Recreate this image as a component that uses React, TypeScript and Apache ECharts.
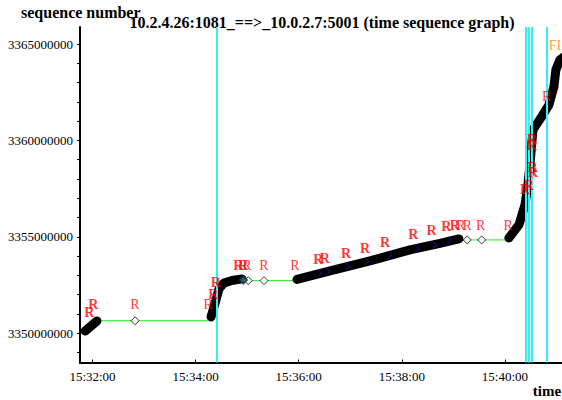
import React, { useEffect, useRef } from "react";
import * as echarts from "echarts";

// ---- axis ticks ----
const xTickLabels = ["15:32:00", "15:34:00", "15:36:00", "15:38:00", "15:40:00"];
const yTickLabels = [3350000000, 3355000000, 3360000000, 3365000000];
const yMinorTicks = [
  3349000000, 3350000000, 3351000000, 3352000000, 3353000000, 3354000000,
  3355000000, 3356000000, 3357000000, 3358000000, 3359000000, 3360000000,
  3361000000, 3362000000, 3363000000, 3364000000, 3365000000,
];
const xRange = ["15:31:45.45", "15:41:06.4"];
const yRange = [3348484000, 3365882000];

// ---- data segments (black, thick) ----
const segA: [string, number][] = [
  ["15:31:51.5", 3350119000],
  ["15:32:05.2", 3350638000],
];
const segB: [string, number][] = [
  ["15:34:17.9", 3350846000],
  ["15:34:23.7", 3351728000],
  ["15:34:27.2", 3352300000],
  ["15:34:33.1", 3352610000],
  ["15:34:42.3", 3352740000],
  ["15:34:53.9", 3352820000],
];
const segC: [string, number][] = [
  ["15:35:58.0", 3352792000],
  ["15:36:36.4", 3353234000],
  ["15:37:22.9", 3353753000],
  ["15:38:09.4", 3354323000],
  ["15:38:44.3", 3354661000],
  ["15:39:06.4", 3354894000],
];
const segD: [string, number][] = [
  ["15:40:04.6", 3354946000],
  ["15:40:16.3", 3355621000],
  ["15:40:23.3", 3356659000],
  ["15:40:26.7", 3357697000],
  ["15:40:29.1", 3358735000],
  ["15:40:32.6", 3360552000],
  ["15:40:41.9", 3361175000],
  ["15:40:51.2", 3361849000],
  ["15:40:57.0", 3362784000],
  ["15:40:59.3", 3363666000],
  ["15:41:04.0", 3364185000],
  ["15:41:08.6", 3364340000],
];

// ---- ack line (green) ----
const ack1: [string, number][] = [["15:32:06.0", 3350650000], ["15:34:15.0", 3350650000]];
const ack2: [string, number][] = [["15:34:54.0", 3352730000], ["15:35:56.0", 3352730000]];
const ack3: [string, number][] = [["15:39:08.0", 3354840000], ["15:40:04.0", 3354840000]];

// ---- hollow diamonds ----
const diamonds: [string, number][] = [
  ["15:32:49.6", 3350650000],
  ["15:35:01.3", 3352730000],
  ["15:35:19.6", 3352730000],
  ["15:39:16.1", 3354840000],
  ["15:39:32.9", 3354840000],
];
const darkDiamonds: [string, number][] = [["15:34:55.5", 3352760000]];

// ---- blue chevrons on the data line ----
const chevrons: [string, number][] = [
  ["15:36:24.7", 3353114000],
  ["15:36:34.0", 3353197000],
  ["15:36:57.3", 3353457000],
  ["15:37:19.4", 3353716000],
  ["15:37:46.2", 3354064000],
  ["15:38:17.6", 3354412000],
  ["15:38:38.6", 3354583000],
  ["15:38:56.0", 3354842000],
];

// ---- retransmission labels "R" ----
const rBold: [string, number][] = [
  ["15:31:56.3", 3351090000],
  ["15:32:00.9", 3351469000],
  ["15:34:20.6", 3351988000],
  ["15:34:23.4", 3352626000],
  ["15:34:49.7", 3353509000],
  ["15:34:55.5", 3353509000],
  ["15:36:22.7", 3353804000],
  ["15:36:30.5", 3353856000],
  ["15:36:55.0", 3354152000],
  ["15:37:17.1", 3354412000],
  ["15:37:40.4", 3354702000],
  ["15:38:13.3", 3355102000],
  ["15:38:34.7", 3355310000],
  ["15:38:51.9", 3355543000],
  ["15:39:01.8", 3355569000],
  ["15:40:23.3", 3357438000],
  ["15:40:27.9", 3357645000],
  ["15:40:31.4", 3360033000],
  ["15:40:31.4", 3359722000],
  ["15:40:32.0", 3358580000],
  ["15:40:32.6", 3358320000],
];
const rThin: [string, number][] = [
  ["15:32:49.5", 3351469000],
  ["15:34:14.7", 3351469000],
  ["15:34:59.8", 3353509000],
  ["15:35:19.6", 3353509000],
  ["15:35:55.6", 3353509000],
  ["15:39:08.8", 3355569000],
  ["15:39:16.1", 3355569000],
  ["15:39:31.7", 3355569000],
  ["15:40:03.8", 3355569000],
  ["15:40:48.5", 3362280000],
];
const finLabel: [string, number][] = [["15:40:58.3", 3364912000]];

// ---- cyan vertical markers ----
const cyanLines = ["15:34:24.3", "15:40:24.4", "15:40:27.9", "15:40:31.4", "15:40:48.9"];

const toSec = (s: string) => {
  const [h, m, sec] = s.split(":");
  return Number(h) * 3600 + Number(m) * 60 + parseFloat(sec);
};
const pad = (n: number) => (n < 10 ? "0" + n : "" + n);
const fmtTime = (v: number) => {
  const r = Math.round(v);
  return `${pad(Math.floor(r / 3600))}:${pad(Math.floor((r % 3600) / 60))}:${pad(r % 60)}`;
};
const conv = (arr: [string, number][]) => arr.map(([t, v]) => [toSec(t), v]);

const SERIF = "'Liberation Serif', 'DejaVu Serif', serif";

export default function App() {
  const ref = useRef<HTMLDivElement>(null);
  useEffect(() => {
    if (!ref.current) return;
    const chart = echarts.init(ref.current, undefined, { renderer: "svg" });
    const blackLine = (data: [string, number][]) => ({
      type: "line",
      data: conv(data),
      symbol: "none",
      z: 3,
      lineStyle: { color: "#000", width: 9, cap: "round", join: "round" },
    });
    const greenLine = (data: [string, number][]) => ({
      type: "line",
      data: conv(data),
      symbol: "none",
      z: 2,
      lineStyle: { color: "#22ee22", width: 1 },
    });
    const rSeries = (data: [string, number][], bold: boolean) => ({
      type: "scatter",
      data: conv(data),
      symbolSize: 1,
      z: 6,
      itemStyle: { color: "rgba(0,0,0,0)" },
      label: {
        show: true,
        position: "inside",
        formatter: "R",
        color: "#ff0000",
        fontSize: 14,
        fontFamily: SERIF,
        fontWeight: bold ? "bold" : "normal",
      },
    });
    chart.setOption({
      animation: false,
      grid: { left: 80, right: 0, top: 27, bottom: 37.5, containLabel: false },
      xAxis: {
        type: "value",
        min: toSec(xRange[0]),
        max: toSec(xRange[1]),
        splitLine: { show: false },
        axisLine: { show: true, onZero: false, lineStyle: { color: "#000", width: 2 } },
        axisTick: {
          show: true,
          inside: true,
          length: 3,
          lineStyle: { color: "#000", width: 1 },
          customValues: xTickLabels.map(toSec),
        },
        axisLabel: {
          color: "#000",
          fontSize: 13,
          fontFamily: SERIF,
          margin: 7,
          customValues: xTickLabels.map(toSec),
          formatter: (v: number) => fmtTime(v),
        },
      },
      yAxis: {
        type: "value",
        min: yRange[0],
        max: yRange[1],
        splitLine: { show: false },
        axisLine: { show: true, onZero: false, lineStyle: { color: "#000", width: 2 } },
        axisTick: {
          show: true,
          length: 3,
          lineStyle: { color: "#000", width: 1 },
          customValues: yMinorTicks,
        },
        axisLabel: {
          color: "#000",
          fontSize: 13,
          fontFamily: SERIF,
          margin: 7,
          customValues: yTickLabels,
          formatter: (v: number) => String(v),
        },
      },
      graphic: [
        {
          type: "text",
          x: 21,
          y: 12.5,
          style: {
            text: "sequence number",
            font: `bold 16px ${SERIF}`,
            fill: "#000",
            verticalAlign: "middle",
          },
        },
        {
          type: "text",
          x: 322,
          y: 22.5,
          style: {
            text: "10.2.4.26:1081_==>_10.0.2.7:5001 (time sequence graph)",
            font: `bold 16px ${SERIF}`,
            fill: "#000",
            align: "center",
            verticalAlign: "middle",
          },
        },
        {
          type: "text",
          x: 547,
          y: 391,
          style: {
            text: "time",
            font: `bold 15px ${SERIF}`,
            fill: "#000",
            align: "center",
            verticalAlign: "middle",
          },
        },
      ],
      series: [
        {
          type: "line",
          data: [],
          symbol: "none",
          z: 1,
          markLine: {
            silent: true,
            symbol: "none",
            label: { show: false },
            lineStyle: { color: "#33f0f5", width: 2, type: "solid" },
            data: cyanLines.map((t) => ({ xAxis: toSec(t) })),
          },
        },
        greenLine(ack1),
        greenLine(ack2),
        greenLine(ack3),
        blackLine(segA),
        blackLine(segB),
        blackLine(segC),
        blackLine(segD),
        {
          type: "scatter",
          data: conv(chevrons),
          symbol: "path://M0,0 L6,5 L0,10 L1.5,10 L7.5,5 L1.5,0 Z",
          symbolSize: [5, 7],
          z: 4,
          itemStyle: { color: "#2020ff" },
        },
        {
          type: "scatter",
          data: conv(diamonds),
          symbol: "diamond",
          symbolSize: 8,
          z: 5,
          itemStyle: { color: "#fff", borderColor: "#000", borderWidth: 1 },
        },
        {
          type: "scatter",
          data: conv(darkDiamonds),
          symbol: "diamond",
          symbolSize: 8,
          z: 5,
          itemStyle: { color: "#2a8a2a", borderColor: "#1a1a80", borderWidth: 1.5 },
        },
        rSeries(rBold, true),
        rSeries(rThin, false),
        {
          type: "scatter",
          data: conv(finLabel),
          symbolSize: 1,
          z: 6,
          itemStyle: { color: "rgba(0,0,0,0)" },
          label: {
            show: true,
            position: "inside",
            formatter: "FI",
            color: "#ff8800",
            fontSize: 14,
            fontFamily: SERIF,
          },
        },
      ],
    });
    return () => chart.dispose();
  }, []);
  return (
    <div
      ref={ref}
      style={{ position: "absolute", left: 0, top: 0, width: 562, height: 400 }}
    />
  );
}
